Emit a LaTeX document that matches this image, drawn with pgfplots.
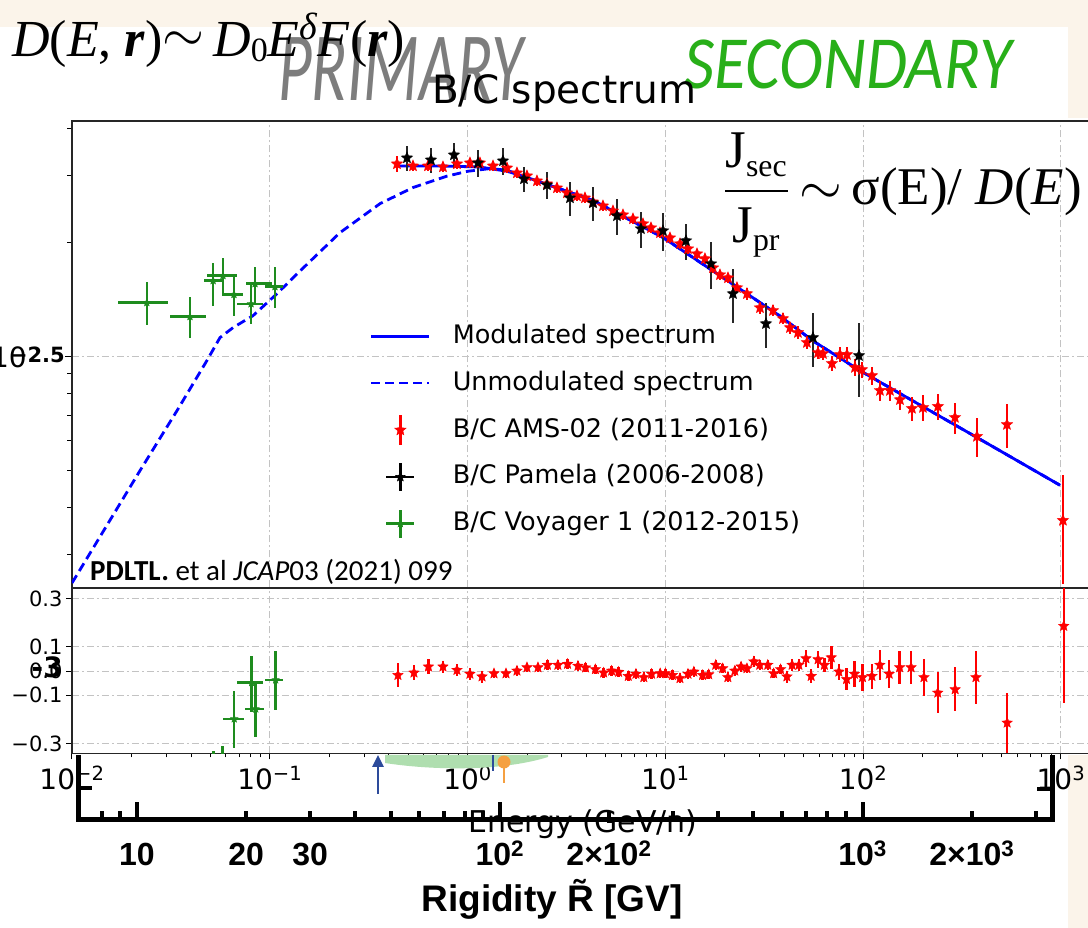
\documentclass[border=0pt]{standalone}
\usepackage{graphicx}
\usepackage{amsmath}
\usepackage{fontspec}
\usepackage{pgfplots}
\usepackage{pgfplotstable}
\pgfplotsset{compat=1.18}
\usetikzlibrary{arrows.meta}
\setmainfont{DejaVu Sans}
\newfontfamily\helv{Liberation Sans}
\newfontfamily\carl{Carlito}
\newfontfamily\tnr{Liberation Serif}

\definecolor{beige}{RGB}{251,244,234}
\definecolor{vgreen}{RGB}{30,140,30}
\definecolor{secgreen}{RGB}{40,175,25}
\definecolor{primgray}{RGB}{125,125,125}
\definecolor{gridc}{RGB}{195,195,195}
\definecolor{arrowblue}{RGB}{45,75,155}
\definecolor{orng}{RGB}{245,160,65}
\definecolor{lgreen}{RGB}{175,222,175}

\pgfdeclareplotmark{fstar}{%
  \pgfpathmoveto{\pgfpointpolar{90}{\pgfplotmarksize}}%
  \pgfpathlineto{\pgfpointpolar{126}{0.45\pgfplotmarksize}}%
  \pgfpathlineto{\pgfpointpolar{162}{\pgfplotmarksize}}%
  \pgfpathlineto{\pgfpointpolar{198}{0.45\pgfplotmarksize}}%
  \pgfpathlineto{\pgfpointpolar{234}{\pgfplotmarksize}}%
  \pgfpathlineto{\pgfpointpolar{270}{0.45\pgfplotmarksize}}%
  \pgfpathlineto{\pgfpointpolar{306}{\pgfplotmarksize}}%
  \pgfpathlineto{\pgfpointpolar{342}{0.45\pgfplotmarksize}}%
  \pgfpathlineto{\pgfpointpolar{18}{\pgfplotmarksize}}%
  \pgfpathlineto{\pgfpointpolar{54}{0.45\pgfplotmarksize}}%
  \pgfpathclose
  \pgfusepathqfillstroke}

% modulated spectrum
\pgfplotstableread{
E R
0.44 0.318
0.724 0.318
1.156 0.316
1.58 0.308
1.91 0.299
4.31 0.258
9.73 0.206
21.2 0.157
37.9 0.128
55.7 0.110
96.4 0.0918
376 0.0612
989 0.0458
}\modtab

% unmodulated spectrum
\pgfplotstableread{
E R
0.01 0.0253
0.0221 0.0501
0.0340 0.0721
0.0481 0.0976
0.0560 0.1122
0.0652 0.1192
0.0823 0.1282
0.1088 0.1465
0.142 0.168
0.226 0.212
0.361 0.253
0.530 0.279
0.787 0.299
1.005 0.308
1.30 0.313
1.58 0.310
1.91 0.299
4.31 0.258
9.73 0.206
21.2 0.157
37.9 0.128
55.7 0.110
96.4 0.0918
376 0.0612
989 0.0458
}\unmodtab

% AMS-02 B/C
\pgfplotstableread{
E R e
0.4396 0.3221 0.05
0.5297 0.3181 0.03
0.6306 0.3181 0.03
0.7509 0.3162 0.03
0.8839 0.3221 0.03
1.0283 0.3240 0.03
1.1554 0.3240 0.03
1.3444 0.3181 0.03
1.5821 0.3143 0.03
1.7768 0.3049 0.03
1.9966 0.2995 0.03
2.2429 0.2905 0.03
2.5199 0.2853 0.03
2.8314 0.2784 0.03
3.1805 0.2701 0.03
3.5735 0.2652 0.03
3.9220 0.2620 0.03
4.3053 0.2557 0.03
4.8362 0.2496 0.03
5.4339 0.2421 0.03
6.1052 0.2364 0.03
6.8581 0.2307 0.03
7.7037 0.2239 0.03
8.4566 0.2185 0.03
9.391 0.2120 0.03
10.549 0.2056 0.03
11.853 0.1983 0.03
13.008 0.1924 0.03
14.451 0.1866 0.03
15.856 0.1811 0.03
17.399 0.1714 0.03
18.880 0.1643 0.03
20.728 0.1613 0.03
23.014 0.1519 0.03
25.852 0.1465 0.035
30.085 0.1345 0.035
34.995 0.1322 0.035
39.311 0.1259 0.035
42.652 0.1192 0.035
46.805 0.1157 0.04
51.98 0.1089 0.04
59.09 0.1024 0.04
62.63 0.1018 0.04
69.56 0.0959 0.045
76.33 0.1012 0.045
82.82 0.1012 0.045
90.89 0.0936 0.05
98.60 0.0924 0.05
110.8 0.0891 0.055
121.6 0.0814 0.06
136.6 0.0814 0.06
153.5 0.0770 0.062
176.5 0.0730 0.075
200.6 0.0734 0.08
238.8 0.0739 0.08
291.1 0.0691 0.095
376.2 0.0616 0.115
533.3 0.0662 0.135
1023.5 0.0370 0.32
}\amsmain

% Pamela B/C
\pgfplotstableread{
E R e
0.4939 0.3340 0.075
0.6531 0.3299 0.075
0.8535 0.3401 0.075
1.1287 0.3240 0.082
1.5101 0.3280 0.082
1.9280 0.2940 0.075
2.5199 0.2835 0.082
3.2940 0.2620 0.102
4.3053 0.2542 0.102
5.6925 0.2350 0.108
7.5265 0.2172 0.108
9.725 0.2146 0.115
12.71 0.2020 0.108
17.00 0.1756 0.143
21.97 0.1465 0.164
32.26 0.1221 0.136
55.75 0.1122 0.164
95.24 0.1006 0.22
}\pammain

% Voyager 1 B/C
\pgfplotstableread{
E R xp xm yp ym
0.0239 0.1387 0.0067 0.0068 0.0183 0.0177
0.0395 0.1274 0.0080 0.0082 0.0165 0.0152
0.0517 0.1585 0.0056 0.0052 0.0182 0.0224
0.0580 0.1634 0.0102 0.0098 0.0189 0.0186
0.0659 0.1457 0.0074 0.0079 0.0177 0.0175
0.0804 0.1377 0.0121 0.0122 0.0179 0.0155
0.0842 0.1556 0.0184 0.0083 0.0170 0.0169
0.1062 0.1528 0.0105 0.0116 0.0198 0.0182
}\voymain

% residuals AMS-02
\pgfplotstableread{
E v e
0.4446 -0.017 0.05
0.5358 -0.007 0.03
0.6342 0.018 0.03
0.7509 0.018 0.025
0.8839 0.004 0.025
1.028 -0.012 0.025
1.183 -0.023 0.025
1.360 -0.010 0.02
1.564 -0.010 0.02
1.777 0.001 0.02
1.997 0.015 0.02
2.269 0.015 0.02
2.534 0.025 0.02
2.861 0.025 0.02
3.203 0.029 0.02
3.615 0.021 0.02
3.950 0.014 0.02
4.427 0.007 0.02
4.877 -0.007 0.02
5.352 0.001 0.02
5.800 -0.004 0.02
6.492 -0.021 0.02
7.101 -0.012 0.02
7.785 -0.026 0.02
8.515 -0.012 0.02
9.413 -0.010 0.02
10.00 -0.010 0.02
10.85 -0.017 0.02
11.85 -0.030 0.02
13.01 -0.012 0.02
13.93 -0.003 0.02
15.42 -0.017 0.02
16.57 -0.014 0.02
17.98 0.025 0.02
19.49 0.011 0.02
20.70 -0.026 0.02
22.44 0.001 0.02
24.14 0.018 0.02
25.85 0.011 0.02
28.02 0.039 0.023
30.01 0.025 0.02
32.94 0.025 0.02
35.28 -0.010 0.02
38.23 0.007 0.02
41.15 -0.023 0.025
43.71 0.025 0.025
47.34 0.025 0.025
51.38 0.052 0.034
54.59 -0.021 0.03
59.16 0.048 0.034
63.66 0.025 0.03
68.99 0.056 0.046
75.38 -0.003 0.034
82.44 -0.034 0.045
90.36 -0.012 0.053
99.19 -0.026 0.055
110.7 -0.021 0.052
121.5 0.025 0.063
135.4 -0.012 0.059
152.9 0.015 0.067
174.7 0.015 0.069
202.9 -0.026 0.077
238.3 -0.090 0.085
291.8 -0.076 0.091
371.8 -0.026 0.109
534.6 -0.214 0.125
1033 0.186 0.32
}\amsres

% residuals Voyager 1
\pgfplotstableread{
E v xp xm yp ym
0.0518 -0.45 0.0055 0.0050 0.12 0.12
0.0576 -0.43 0.0100 0.0090 0.12 0.12
0.0661 -0.198 0.0080 0.0081 0.117 0.121
0.0810 -0.048 0.0111 0.0127 0.110 0.120
0.0849 -0.157 0.0086 0.0100 0.103 0.114
0.1071 -0.037 0.0091 0.0125 0.121 0.124
}\voyres

\tikzset{px/.style={x=1pt, y=-1pt, shift={(0pt,928pt)}}}

\begin{document}
\begin{tikzpicture}
\useasboundingbox (0pt,0pt) rectangle (1088pt,928pt);
\clip (0pt,0pt) rectangle (1088pt,928pt);
\begin{scope}[px]
\fill[beige] (0,0) rectangle (1088,928);
\fill[white] (0,27) rectangle (1068,928);
\fill[white] (1068,118) rectangle (1088,755);

% headline texts
\node[anchor=base west, inner sep=0pt, text=primgray] at (278,101)
  {\scalebox{0.665}[1]{\carl\itshape\fontsize{98}{100}\selectfont PRIMARY}};
\node[anchor=base west, inner sep=0pt, text=secgreen] at (684,89)
  {\scalebox{0.886}[1]{\carl\itshape\fontsize{75}{80}\selectfont SECONDARY}};
\node[anchor=base west, inner sep=0pt] at (12,57)
  {\tnr\fontsize{52}{60}\selectfont \textit{D}(\textit{E}, \textbf{\textit{r}})\raisebox{5pt}{\scalebox{2.6}{\fontsize{20}{20}\selectfont$\sim$}}\,\textit{D}\raisebox{-5pt}{\fontsize{34}{34}\selectfont 0}\textit{E}\raisebox{17pt}{\fontsize{38}{38}\selectfont\textit{δ}}\textit{F}(\textbf{\textit{r}})};
\node[anchor=base west, inner sep=0pt] at (432,104) {\fontsize{39}{40}\selectfont B/C spectrum};
\end{scope}

% ---------------- main panel ----------------
\begin{axis}[
  at={(72pt,340.5pt)}, anchor=south west, scale only axis,
  width=1048.5pt, height=466.5pt,
  xmode=log, ymode=log,
  xmin=0.01, xmax=2000, ymin=0.02462, ymax=0.4178,
  axis line style={line width=1.3pt, black!85},
  xtick={0.01,0.1,1,10,100,1000}, xticklabels={},
  major x tick style={draw=none}, minor x tick style={draw=none},
  ytick={0.1}, yticklabels={},
  minor ytick={0.03,0.04,0.05,0.06,0.07,0.08,0.09,0.2,0.3,0.4},
  tick pos=left, tick align=outside,
  major tick length=7pt, minor tick length=5pt,
  every tick/.style={black, line width=1pt},
  grid=major,
  major grid style={gridc, line width=1pt, dash pattern=on 7pt off 3pt on 2pt off 3pt},
  legend style={at={(0.2842,0.3376)}, anchor=west, draw=none, fill=none,
    inner sep=0pt, outer sep=0pt, row sep=14.7pt, column sep=22pt,
    font=\fontsize{25.5}{30}\selectfont,
    nodes={inner sep=0pt, text height=19pt, text depth=5pt}},
  legend cell align=left,
]
\addlegendimage{legend image code/.code={\path[draw=none,fill=none] (0pt,-16pt) rectangle (58pt,16pt); \draw[blue, line width=2.8pt] (0pt,0pt) -- (58pt,0pt);}}
\addlegendentry{Modulated spectrum}
\addlegendimage{legend image code/.code={\path[draw=none,fill=none] (0pt,-16pt) rectangle (58pt,16pt); \draw[blue, line width=2.8pt, dash pattern=on 9pt off 5pt] (0pt,0pt) -- (58pt,0pt);}}
\addlegendentry{Unmodulated spectrum}
\addlegendimage{legend image code/.code={\path[draw=none,fill=none] (0pt,-16pt) rectangle (58pt,16pt); \draw[red, line width=2.5pt] (29pt,-15pt) -- (29pt,15pt); \draw[red, mark=fstar, mark size=6pt, mark options={fill=red}] plot coordinates {(29pt,0pt)};}}
\addlegendentry{B/C AMS-02 (2011-2016)}
\addlegendimage{legend image code/.code={\path[draw=none,fill=none] (0pt,-16pt) rectangle (58pt,16pt); \draw[black, line width=2.5pt] (29pt,-14pt) -- (29pt,14pt); \draw[black, line width=2.5pt] (15pt,0pt) -- (43pt,0pt); \draw[black, mark=fstar, mark size=5pt, mark options={fill=black}] plot coordinates {(29pt,0pt)};}}
\addlegendentry{B/C Pamela (2006-2008)}
\addlegendimage{legend image code/.code={\path[draw=none,fill=none] (0pt,-16pt) rectangle (58pt,16pt); \draw[vgreen, line width=2.5pt] (29pt,-14pt) -- (29pt,14pt); \draw[vgreen, line width=2.5pt] (15pt,0pt) -- (43pt,0pt); \draw[vgreen, mark=fstar, mark size=4pt, mark options={fill=vgreen}] plot coordinates {(29pt,0pt)};}}
\addlegendentry{B/C Voyager 1 (2012-2015)}

\addplot[forget plot, blue, line width=2.8pt, dash pattern=on 9pt off 5pt] table[x=E,y=R] {\unmodtab};
\addplot[forget plot, blue, line width=2.8pt] table[x=E,y=R] {\modtab};
\addplot[forget plot, only marks, red, mark=fstar, mark size=6pt, mark options={fill=red, line width=0.4pt},
  error bars/.cd, y dir=both, y explicit relative, error mark=none,
  error bar style={red, line width=2.5pt}] table[x=E,y=R,y error=e] {\amsmain};
\addplot[forget plot, only marks, black, mark=fstar, mark size=6pt, mark options={fill=black, line width=0.4pt},
  error bars/.cd, y dir=both, y explicit relative, error mark=none,
  error bar style={black!85, line width=2.8pt}] table[x=E,y=R,y error=e] {\pammain};
\addplot[forget plot, only marks, vgreen, mark=fstar, mark size=4pt, mark options={fill=vgreen, line width=0.4pt},
  error bars/.cd, x dir=both, x explicit, y dir=both, y explicit, error mark=none,
  error bar style={vgreen, line width=2.5pt}]
  table[x=E, y=R, x error plus=xp, x error minus=xm, y error plus=yp, y error minus=ym] {\voymain};
\end{axis}

% ---------------- residual panel ----------------
\begin{axis}[
  at={(72pt,174.7pt)}, anchor=south west, scale only axis,
  width=1048.5pt, height=165pt,
  xmode=log, xmin=0.01, xmax=2000, ymin=-0.340, ymax=0.342,
  axis line style={line width=1.3pt, black!85},
  xtick={0.01,0.1,1,10,100,1000},
  xticklabels={10\textsuperscript{−2},10\textsuperscript{−1},10\textsuperscript{0},10\textsuperscript{1},10\textsuperscript{2},10\textsuperscript{3}},
  ytick={-0.3,-0.1,0,0.1,0.3},
  yticklabels={−0.3,−0.1,0.0,0.1,0.3},
  yticklabel style={font=\fontsize{21}{21}\selectfont},
  xticklabel style={font=\fontsize{28}{28}\selectfont, anchor=base, yshift=-30pt},
  tick pos=left, tick align=outside,
  major tick length=6pt, minor tick length=4pt,
  every tick/.style={black, line width=1pt},
  grid=major,
  major grid style={gridc, line width=1pt, dash pattern=on 7pt off 3pt on 2pt off 3pt},
]
\addplot[only marks, red, mark=fstar, mark size=5.5pt, mark options={fill=red, line width=0.4pt},
  error bars/.cd, y dir=both, y explicit, error mark=none,
  error bar style={red, line width=2.5pt}] table[x=E,y=v,y error=e] {\amsres};
\addplot[only marks, vgreen, mark=fstar, mark size=4pt, mark options={fill=vgreen, line width=0.4pt},
  error bars/.cd, x dir=both, x explicit, y dir=both, y explicit, error mark=none,
  error bar style={vgreen, line width=2.5pt}]
  table[x=E, y=v, x error plus=xp, x error minus=xm, y error plus=yp, y error minus=ym] {\voyres};
\end{axis}

\begin{scope}[px]
% overlapping tick-label remnants
\node[anchor=base east, inner sep=0pt] at (27,368) {\fontsize{28}{28}\selectfont 10};
\node[anchor=base east, inner sep=0pt] at (65,363) {\bfseries\fontsize{21}{21}\selectfont −2.5};
\node[anchor=base east, inner sep=0pt] at (63,678) {\bfseries\fontsize{28}{28}\selectfont -3};

% reference
\node[anchor=base west, inner sep=0pt] at (90,581)
  {\carl\fontsize{29}{32}\selectfont\textbf{PDLTL.} et al \textit{JCAP}03 (2021) 099};

% right formula
\node[anchor=base west, inner sep=0pt] at (722,205)
  {\scalebox{2.65}{\fontsize{20}{24}\selectfont\tnr $\dfrac{\hbox{J}_{\hbox{\fontsize{12}{12}\selectfont sec}}}{\hbox{J}_{\hbox{\fontsize{12}{12}\selectfont pr}}}$\,$\sim$\,σ(E)/ \textit{D}(\textit{E})}};

% energy-axis annotations
\fill[lgreen] (385,755) -- (548,755) -- (548,757) .. controls (500,772) and (430,770) .. (385,763) -- cycle;
\draw[arrowblue, line width=2.5pt, -{Triangle[length=12pt,width=11pt]}] (378,794) -- (378,755);
\draw[arrowblue, line width=2.5pt] (493,755) -- (493,771);
\draw[orng, line width=2.5pt] (504,762) -- (504,783);
\fill[orng] (504,762) circle (6.5);

\node[anchor=base, inner sep=0pt] at (583,833) {\fontsize{30}{30}\selectfont Energy (GeV/n)};
\end{scope}

% ---------------- rigidity axis ----------------
\begin{axis}[
  at={(78pt,108pt)}, anchor=south west, scale only axis,
  width=974pt, height=65pt,
  xmode=log, xmin=6.88, xmax=3327, ymin=0, ymax=1,
  axis x line*=bottom, axis y line=none,
  axis line style={draw=none},
  xtick={10,100,1000},
  xticklabels={10,10\textsuperscript{2},10\textsuperscript{3}},
  extra x ticks={20,30,200,2000},
  extra x tick labels={20,30,2×10\textsuperscript{2},2×10\textsuperscript{3}},
  extra x tick style={major tick length=9pt},
  minor xtick={8,9,40,50,60,70,80,90,300,400,500,600,700,800,900,3000},
  tick align=inside, major tick length=18pt, minor tick length=9pt,
  every tick/.style={black, line width=4pt},
  xticklabel style={font=\helv\bfseries\fontsize{32}{32}\selectfont, anchor=base, yshift=-46pt},
]
\addplot[draw=none] coordinates {(10,0.5)};
\end{axis}

\begin{scope}[px]
\draw[black, line width=5pt, line join=miter] (78,755) -- (78,820) -- (1052,820) -- (1052,755);
\draw[black, line width=4pt] (78,788) -- (92,788);
\draw[black, line width=4pt] (1037,789) -- (1052,789);
\node[anchor=base, inner sep=0pt] at (552,912) {\helv\bfseries\fontsize{37}{37}\selectfont Rigidity \~{R} [GV]};
\end{scope}
\end{tikzpicture}
\end{document}
